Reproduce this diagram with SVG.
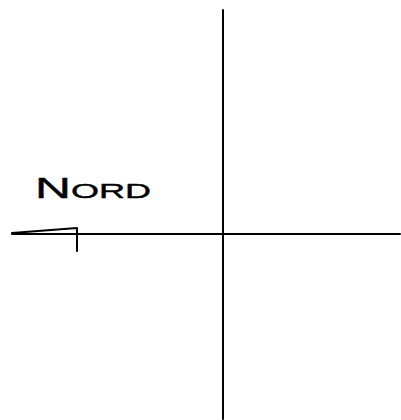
<svg xmlns="http://www.w3.org/2000/svg" width="401" height="420" viewBox="0 0 401 420">
<style>
.ln{stroke:#000;stroke-width:2;fill:none;stroke-linecap:round;stroke-linejoin:round}
.lbl{font-family:"Liberation Sans",Arial,sans-serif;fill:#000;stroke:#000;stroke-width:0.4;stroke-linejoin:round}
</style>
<rect width="401" height="420" fill="#fff"/>
<g id="connectors">
<line class="ln" x1="223" y1="10" x2="223" y2="419"/>
<line class="ln" x1="12" y1="234" x2="400" y2="234"/>
</g>
<g id="north-marker">
<polyline class="ln" points="12,233 77,228 77,251"/>
</g>
<g id="label-nord">
<text class="lbl" x="35" y="198" textLength="116" lengthAdjust="spacingAndGlyphs"><tspan font-size="29">N</tspan><tspan font-size="21">ORD</tspan></text>
</g>
</svg>
